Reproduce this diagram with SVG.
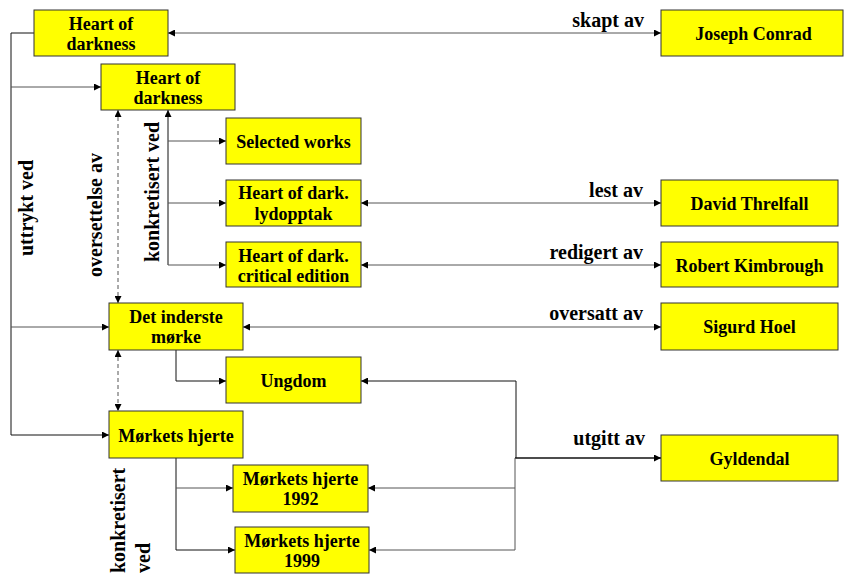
<svg xmlns="http://www.w3.org/2000/svg" width="844" height="574" viewBox="0 0 844 574">
<style>
.node rect{fill:#ffff00;stroke:#333;stroke-width:1}
.node text{font-family:'Liberation Serif','DejaVu Serif Condensed','DejaVu Serif',serif;font-weight:bold;font-size:18px;fill:#000;text-anchor:middle}
.lbl{font-family:'Liberation Serif','DejaVu Serif Condensed','DejaVu Serif',serif;font-weight:bold;font-size:20px;fill:#000}
.c{fill:none;stroke:#555;stroke-width:1}
.k{stroke:#111}
.d{stroke-dasharray:4 3}
</style>
<defs>
<marker id="ar" viewBox="0 0 7 7" refX="7" refY="3.5" markerWidth="7" markerHeight="7" markerUnits="userSpaceOnUse" orient="auto-start-reverse">
<path d="M0,0 L7,3.5 L0,7 z" fill="#000"/>
</marker>
</defs>
<rect width="844" height="574" fill="#fff"/>
<g id="connectors">
<path class="c k" d="M34,33 H11 V435 H109" marker-end="url(#ar)"/>
<path class="c" d="M11,87 H101" marker-end="url(#ar)"/>
<path class="c" d="M11,327 H109" marker-end="url(#ar)"/>
<path class="c" d="M168,33 H661" marker-start="url(#ar)" marker-end="url(#ar)"/>
<path class="c d" d="M118,110 V303" marker-start="url(#ar)" marker-end="url(#ar)"/>
<path class="c d" d="M118,350 V411" marker-start="url(#ar)" marker-end="url(#ar)"/>
<path class="c k" d="M168,265 V110" marker-end="url(#ar)"/>
<path class="c" d="M168,141 H226" marker-end="url(#ar)"/>
<path class="c" d="M168,203 H226" marker-end="url(#ar)"/>
<path class="c" d="M168,265 H226" marker-end="url(#ar)"/>
<path class="c" d="M361,203 H661" marker-start="url(#ar)" marker-end="url(#ar)"/>
<path class="c" d="M361,265 H661" marker-start="url(#ar)" marker-end="url(#ar)"/>
<path class="c" d="M243,327 H661" marker-start="url(#ar)" marker-end="url(#ar)"/>
<path class="c k" d="M176,350 V381 H226" marker-end="url(#ar)"/>
<path class="c k" d="M176,458 V550 H235" marker-end="url(#ar)"/>
<path class="c" d="M176,488 H233" marker-end="url(#ar)"/>
<path class="c k" d="M361,381 H516 V458" marker-start="url(#ar)"/>
<path class="c k" d="M515,458 H661" style="stroke-width:1.5" marker-end="url(#ar)"/>
<path class="c" d="M368,488 H515 V458" marker-start="url(#ar)"/>
<path class="c" d="M369,550 H515 V488" marker-start="url(#ar)"/>
<text class="lbl" x="644" y="27" text-anchor="end">skapt av</text>
<text class="lbl" x="643" y="197" text-anchor="end">lest av</text>
<text class="lbl" x="643" y="259" text-anchor="end">redigert av</text>
<text class="lbl" x="643" y="320" text-anchor="end">oversatt av</text>
<text class="lbl" x="645" y="445" text-anchor="end">utgitt av</text>
<text class="lbl" transform="translate(33,208) rotate(-90)" text-anchor="middle">uttrykt ved</text>
<text class="lbl" transform="translate(102,215) rotate(-90)" text-anchor="middle">oversettelse av</text>
<text class="lbl" transform="translate(159,192) rotate(-90)" text-anchor="middle">konkretisert ved</text>
<text class="lbl" transform="translate(125,573) rotate(-90)">konkretisert</text>
<text class="lbl" transform="translate(150,573) rotate(-90)">ved</text>
</g>
<g id="n1" class="node"><rect x="34" y="10" width="134" height="46"/><text x="101" y="30">Heart of</text><text x="101" y="50">darkness</text></g>
<g id="n2" class="node"><rect x="101" y="64" width="134" height="46"/><text x="168" y="84">Heart of</text><text x="168" y="104">darkness</text></g>
<g id="n3" class="node"><rect x="226" y="118" width="135" height="46"/><text x="293.5" y="148">Selected works</text></g>
<g id="n4" class="node"><rect x="226" y="180" width="135" height="46"/><text x="293.5" y="199">Heart of dark.</text><text x="293.5" y="220">lydopptak</text></g>
<g id="n5" class="node"><rect x="226" y="242" width="135" height="45"/><text x="293.5" y="262">Heart of dark.</text><text x="293.5" y="282">critical edition</text></g>
<g id="n6" class="node"><rect x="661" y="10" width="182" height="46"/><text x="753.5" y="40">Joseph Conrad</text></g>
<g id="n7" class="node"><rect x="661" y="180" width="177" height="46"/><text x="749.5" y="210">David Threlfall</text></g>
<g id="n8" class="node"><rect x="661" y="242" width="177" height="45"/><text x="749.5" y="272">Robert Kimbrough</text></g>
<g id="n9" class="node"><rect x="661" y="303" width="177" height="47"/><text x="749.5" y="333">Sigurd Hoel</text></g>
<g id="n10" class="node"><rect x="661" y="435" width="177" height="46"/><text x="749.5" y="465">Gyldendal</text></g>
<g id="n11" class="node"><rect x="109" y="303" width="134" height="47"/><text x="176" y="323">Det inderste</text><text x="176" y="343">mørke</text></g>
<g id="n12" class="node"><rect x="226" y="357" width="135" height="46"/><text x="293.5" y="387">Ungdom</text></g>
<g id="n13" class="node"><rect x="109" y="411" width="134" height="47"/><text x="176" y="442">Mørkets hjerte</text></g>
<g id="n14" class="node"><rect x="233" y="465" width="135" height="47"/><text x="300.5" y="485">Mørkets hjerte</text><text x="300.5" y="505">1992</text></g>
<g id="n15" class="node"><rect x="235" y="527" width="134" height="46"/><text x="302" y="547">Mørkets hjerte</text><text x="302" y="567">1999</text></g>
</svg>
